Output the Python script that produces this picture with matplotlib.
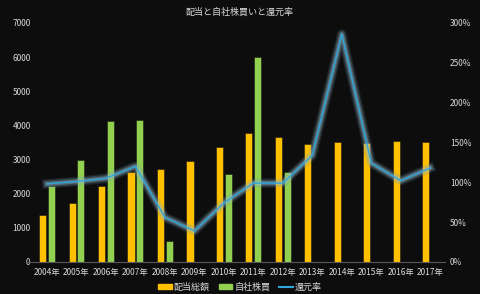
import numpy as np
import matplotlib
matplotlib.use("Agg")
import matplotlib.pyplot as plt
import matplotlib.patheffects as pe
from matplotlib.lines import Line2D
from matplotlib.patches import Patch

plt.rcParams['font.family'] = ['Noto Sans CJK JP', 'DejaVu Sans']

years = [f"{y}年" for y in range(2004, 2018)]
dividends = [1380, 1730, 2230, 2640, 2730, 2960, 3370, 3780, 3670, 3460, 3520, 3490, 3550, 3520]
buybacks = [2230, 2990, 4130, 4160, 610, 0, 2580, 6010, 2640, 0, 0, 0, 0, 0]
payout = [98, 101, 105, 120, 56, 39, 74, 99, 99, 134, 286, 124, 102, 118]

bg = "#0d0d0d"
txt = "#d9d9d9"
yellow = "#FFC000"
green = "#92D050"
blue = "#2EA8DC"

fig = plt.figure(figsize=(4.8, 2.94), dpi=100, facecolor=bg)
ax = fig.add_axes([0.058, 0.109, 0.869, 0.813], facecolor=bg)

x = np.arange(len(years))
w = 0.24
ax.bar(x - 0.15, dividends, w, color=yellow, edgecolor="#1a1a1a", linewidth=0.4, zorder=2)
ax.bar(x + 0.15, buybacks, w, color=green, edgecolor="#1a1a1a", linewidth=0.4, zorder=2)

ax.set_ylim(0, 7000)
ax.set_yticks(range(0, 7001, 1000))
ax.set_xlim(-0.65, 13.5)
ax.set_xticks(x)
ax.set_xticklabels(years)

# glow line for payout ratio
ax2 = ax.twinx()
ax2.plot(x, payout, color=blue, linewidth=1.0, zorder=5,
         path_effects=[pe.Stroke(linewidth=7, foreground="#6f94a8", alpha=0.15),
                       pe.Stroke(linewidth=5, foreground="#86aabd", alpha=0.25),
                       pe.Stroke(linewidth=3, foreground="#9fc2d3", alpha=0.35),
                       pe.Normal()])
ax2.set_ylim(0, 300)
ax2.set_yticks(range(0, 301, 50))
ax2.set_yticklabels([f"{v}%" for v in range(0, 301, 50)])

for a in (ax, ax2):
    for s in a.spines.values():
        s.set_visible(False)
    a.tick_params(length=0, colors=txt, labelsize=6)
ax.spines['bottom'].set_visible(True)
ax.spines['bottom'].set_color("#595959")
ax.spines['bottom'].set_linewidth(0.8)
ax.tick_params(axis='y', pad=-2)
ax.tick_params(axis='x', pad=4)

fig.text(0.5, 0.975, "配当と自社株買いと還元率", ha="center", va="top", color=txt, fontsize=6.5)

handles = [Patch(color=yellow, label="配当総額"),
           Patch(color=green, label="自社株買"),
           Line2D([0], [0], color=blue, lw=1.5, label="還元率")]
fig.legend(handles=handles, loc="lower center", bbox_to_anchor=(0.5, -0.02), ncol=3,
           frameon=False, fontsize=6.5, labelcolor=txt, handlelength=1.5,
           handleheight=0.5, handletextpad=0.2, columnspacing=1.0)

fig.savefig("out.png", dpi=100, facecolor=bg)
